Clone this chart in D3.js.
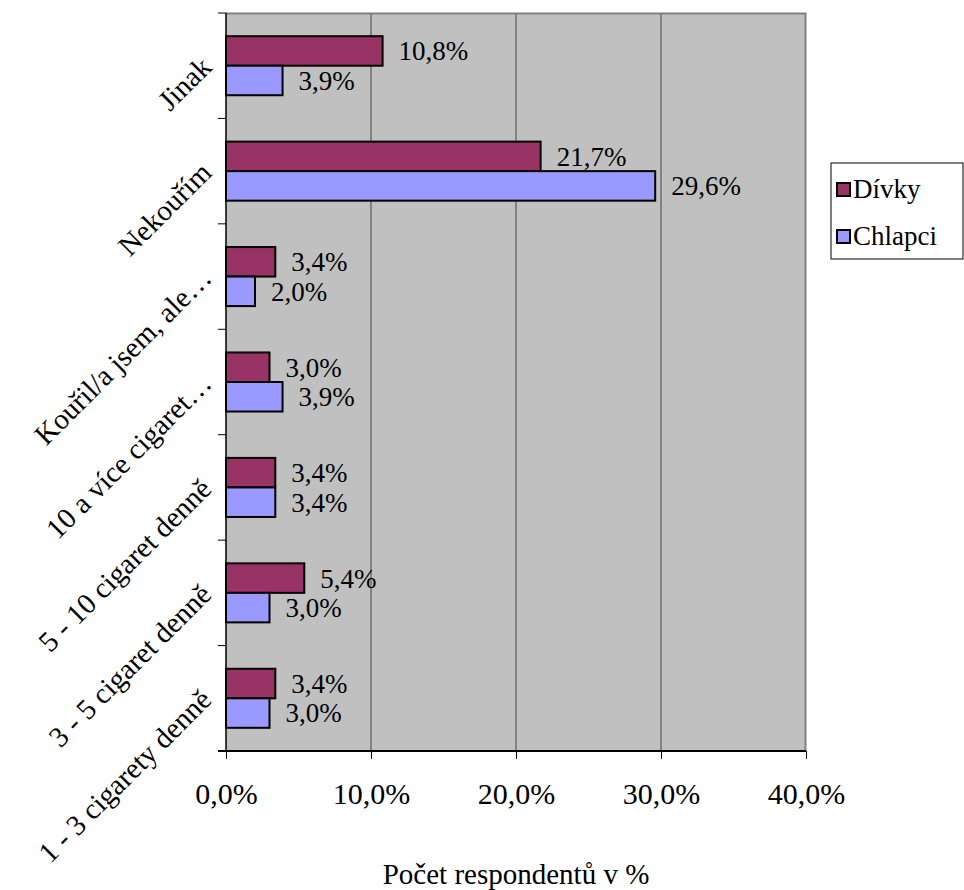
<!DOCTYPE html>
<html>
<head>
<meta charset="utf-8">
<script src="https://cdn.jsdelivr.net/npm/d3@7"></script>
<style>
  body { margin: 0; background: #fff; }
  svg text { font-family: 'Liberation Serif', 'DejaVu Serif', 'Times New Roman', Times, serif; fill: #000; }
</style>
</head>
<body>
<svg id="chart" width="964" height="890"></svg>
<script>
// categories listed top to bottom
const categories = ['Jinak', 'Nekouřím', 'Kouřil/a jsem, ale…', '10 a více cigaret…',
  '5 - 10 cigaret denně', '3 - 5 cigaret denně', '1 - 3 cigarety denně']
const seriesNames = ['Dívky', 'Chlapci']
const divky = [10.8, 21.7, 3.4, 3.0, 3.4, 5.4, 3.4]
const chlapci = [3.9, 29.6, 2.0, 3.9, 3.4, 3.0, 3.0]
const xTicks = [0, 10, 20, 30, 40]
const colors = ['#993366', '#9999FF']

const serif = "'Liberation Serif', 'DejaVu Serif', 'Times New Roman', serif"

const svg = d3.select('#chart').attr('font-family', serif)
const margin = { left: 226, top: 13, right: 158, bottom: 139 }
const width = 964 - margin.left - margin.right
const height = 890 - margin.top - margin.bottom

const fmt = (v) => v.toFixed(1).replace('.', ',') + '%'

const x = d3.scaleLinear().domain([0, 40]).range([0, width])
const y = d3.scaleBand().domain(categories).range([0, height]).paddingInner(0.44).paddingOuter(0.22)
const ys = d3.scaleBand().domain(seriesNames).range([0, y.bandwidth()])

const g = svg.append('g').attr('transform', `translate(${margin.left},${margin.top})`)

g.append('rect')
  .attr('width', width).attr('height', height)
  .attr('fill', '#C0C0C0')

// gridlines
g.append('g').selectAll('line')
  .data(xTicks.slice(1, -1))
  .enter().append('line')
  .attr('x1', (d) => x(d)).attr('x2', (d) => x(d))
  .attr('y1', 0).attr('y2', height)
  .attr('stroke', '#444').attr('stroke-width', 1)

// plot border (top/right)
g.append('path')
  .attr('d', `M0,0.5H${width - 0.5}V${height}`)
  .attr('fill', 'none').attr('stroke', '#808080').attr('stroke-width', 2)

const rows = categories.map((c, i) => ({ cat: c, values: [divky[i], chlapci[i]] }))

const grp = g.append('g').selectAll('g')
  .data(rows)
  .enter().append('g')
  .attr('transform', (d) => `translate(0,${y(d.cat)})`)

grp.selectAll('rect')
  .data((d) => d.values.map((v, i) => ({ v: v, s: seriesNames[i], i: i })))
  .enter().append('rect')
  .attr('x', 0)
  .attr('y', (d) => ys(d.s))
  .attr('width', (d) => x(d.v))
  .attr('height', ys.bandwidth())
  .attr('fill', (d) => colors[d.i])
  .attr('stroke', '#000')
  .attr('stroke-width', 2)

grp.selectAll('text')
  .data((d) => d.values.map((v, i) => ({ v: v, s: seriesNames[i], i: i })))
  .enter().append('text')
  .attr('x', (d) => x(d.v) + 16)
  .attr('y', (d) => ys(d.s) + ys.bandwidth() / 2)
  .attr('dy', '0.35em')
  .attr('font-size', 27)
  .text((d) => fmt(d.v))

// x axis
const xAxis = g.append('g')
  .attr('transform', `translate(0,${height})`)
  .call(d3.axisBottom(x).tickValues(xTicks).tickSize(8).tickFormat((d) => fmt(d)).tickPadding(24))
xAxis.attr('font-family', serif)
xAxis.select('.domain').attr('stroke', '#000').attr('stroke-width', 2).attr('d', `M-8,0H${width}`)
xAxis.selectAll('text').attr('font-size', 30).attr('dy', '0.71em')

// y axis line and ticks at band boundaries
g.append('line')
  .attr('x1', 0).attr('x2', 0).attr('y1', 0).attr('y2', height)
  .attr('stroke', '#000').attr('stroke-width', 1.5)

g.append('g').selectAll('line')
  .data(d3.range(categories.length + 1))
  .enter().append('line')
  .attr('x1', -8).attr('x2', 0)
  .attr('y1', (i) => i * height / categories.length)
  .attr('y2', (i) => i * height / categories.length)
  .attr('stroke', '#000')

// category labels, rotated
g.append('g').selectAll('text')
  .data(categories)
  .enter().append('text')
  .attr('transform', (d) => `translate(-20,${y(d) + y.bandwidth() / 2 - 4}) rotate(-45)`)
  .attr('text-anchor', 'end')
  .attr('dy', '0.35em')
  .attr('font-size', 29)
  .text((d) => d)

// axis title
svg.append('text')
  .attr('x', margin.left + width / 2)
  .attr('y', 884)
  .attr('text-anchor', 'middle')
  .attr('font-size', 29)
  .text('Počet respondentů v %')

// legend
const lg = svg.append('g').attr('transform', 'translate(831,163)')
lg.append('rect').attr('width', 132).attr('height', 96)
  .attr('fill', '#fff').attr('stroke', '#000').attr('stroke-width', 1)
const li = lg.selectAll('g.item')
  .data(seriesNames)
  .enter().append('g')
  .attr('class', 'item')
  .attr('transform', (d, i) => `translate(6,${26 + i * 47})`)
li.append('rect')
  .attr('x', 0).attr('y', -6).attr('width', 13).attr('height', 13)
  .attr('fill', (d, i) => colors[i]).attr('stroke', '#000').attr('stroke-width', 2)
li.append('text')
  .attr('x', 16).attr('dy', '0.35em')
  .attr('font-size', 27)
  .text((d) => d)
</script>
</body>
</html>
